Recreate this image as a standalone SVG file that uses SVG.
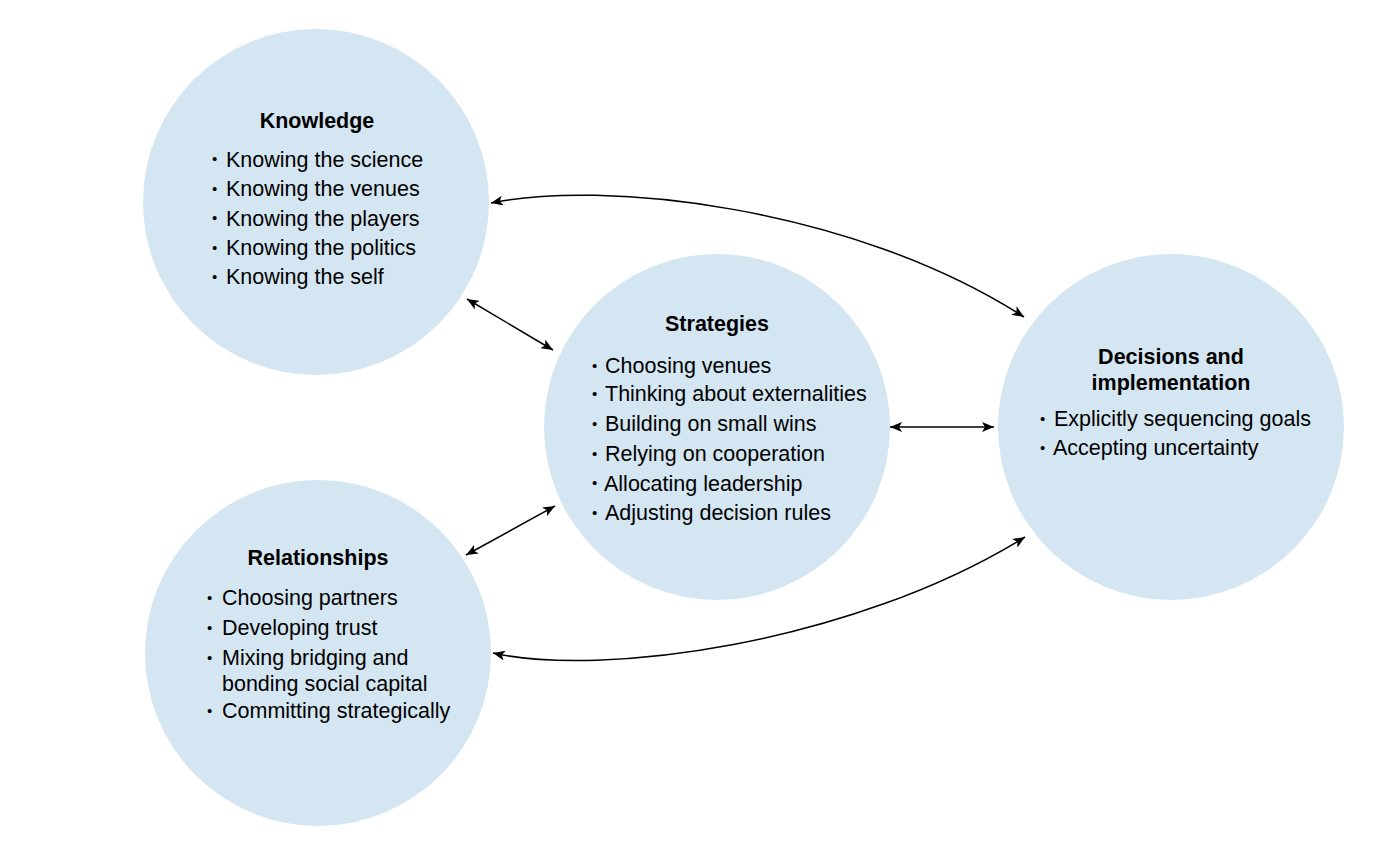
<svg xmlns="http://www.w3.org/2000/svg" width="1380" height="852" viewBox="0 0 1380 852">
  <style>
    .node { fill: #d4e6f1; }
    .title { font-family: "Liberation Sans", Arial, sans-serif; font-size: 21.5px; font-weight: bold; fill: #000; text-anchor: middle; }
    .item { font-family: "Liberation Sans", Arial, sans-serif; font-size: 21.5px; fill: #000; }
    .bul { font-family: "Liberation Sans", Arial, sans-serif; font-size: 15px; fill: #000; }
    .conn { fill: none; stroke: #000; stroke-width: 1.5; marker-start: url(#arr); marker-end: url(#arr); }
  </style>
  <defs>
    <marker id="arr" viewBox="0 0 12 10" refX="12" refY="5" markerWidth="12" markerHeight="10" markerUnits="userSpaceOnUse" orient="auto-start-reverse">
      <path d="M0,0 L12,5 L0,10 L3,5 Z" fill="#000"/>
    </marker>
  </defs>
  <rect width="1380" height="852" fill="#fff"/>

  <g id="knowledge">
    <circle class="node" cx="316" cy="202" r="173"/>
    <text class="title" x="317" y="128">Knowledge</text>
    <text class="bul" x="212" y="164.2">•</text><text class="item" x="226" y="166.5">Knowing the science</text>
    <text class="bul" x="212" y="193.7">•</text><text class="item" x="226" y="196">Knowing the venues</text>
    <text class="bul" x="212" y="223.2">•</text><text class="item" x="226" y="225.5">Knowing the players</text>
    <text class="bul" x="212" y="252.7">•</text><text class="item" x="226" y="255">Knowing the politics</text>
    <text class="bul" x="212" y="281.7">•</text><text class="item" x="226" y="284">Knowing the self</text>
  </g>

  <g id="strategies">
    <circle class="node" cx="717" cy="427" r="173"/>
    <text class="title" x="717" y="331">Strategies</text>
    <text class="bul" x="592" y="370.7">•</text><text class="item" x="605" y="373">Choosing venues</text>
    <text class="bul" x="592" y="398.7">•</text><text class="item" x="605" y="401">Thinking about externalities</text>
    <text class="bul" x="592" y="428.7">•</text><text class="item" x="605" y="431">Building on small wins</text>
    <text class="bul" x="592" y="458.7">•</text><text class="item" x="605" y="461">Relying on cooperation</text>
    <text class="bul" x="592" y="488.2">•</text><text class="item" x="604" y="490.5">Allocating leadership</text>
    <text class="bul" x="592" y="517.7">•</text><text class="item" x="605" y="520">Adjusting decision rules</text>
  </g>

  <g id="decisions">
    <circle class="node" cx="1171" cy="427" r="173"/>
    <text class="title" x="1171" y="363.5">Decisions and</text>
    <text class="title" x="1171" y="389.5">implementation</text>
    <text class="bul" x="1040" y="423.7">•</text><text class="item" x="1054" y="426">Explicitly sequencing goals</text>
    <text class="bul" x="1040" y="452.7">•</text><text class="item" x="1053" y="455">Accepting uncertainty</text>
  </g>

  <g id="relationships">
    <circle class="node" cx="318" cy="653" r="173"/>
    <text class="title" x="318" y="565">Relationships</text>
    <text class="bul" x="207" y="602.7">•</text><text class="item" x="222" y="605">Choosing partners</text>
    <text class="bul" x="207" y="632.7">•</text><text class="item" x="222" y="635">Developing trust</text>
    <text class="bul" x="207" y="662.7">•</text><text class="item" x="222" y="665">Mixing bridging and</text>
    <text class="item" x="222" y="691">bonding social capital</text>
    <text class="bul" x="207" y="715.7">•</text><text class="item" x="222" y="718">Committing strategically</text>
  </g>

  <g id="connectors">
    <path class="conn" d="M467,299 L553,350"/>
    <path class="conn" d="M466,555 L555,506"/>
    <path class="conn" d="M890,427 L994,427"/>
    <path class="conn" d="M491,203 C600,180 850,205 1024,317"/>
    <path class="conn" d="M493,653 C600,677 850,645 1025,537"/>
  </g>
</svg>
